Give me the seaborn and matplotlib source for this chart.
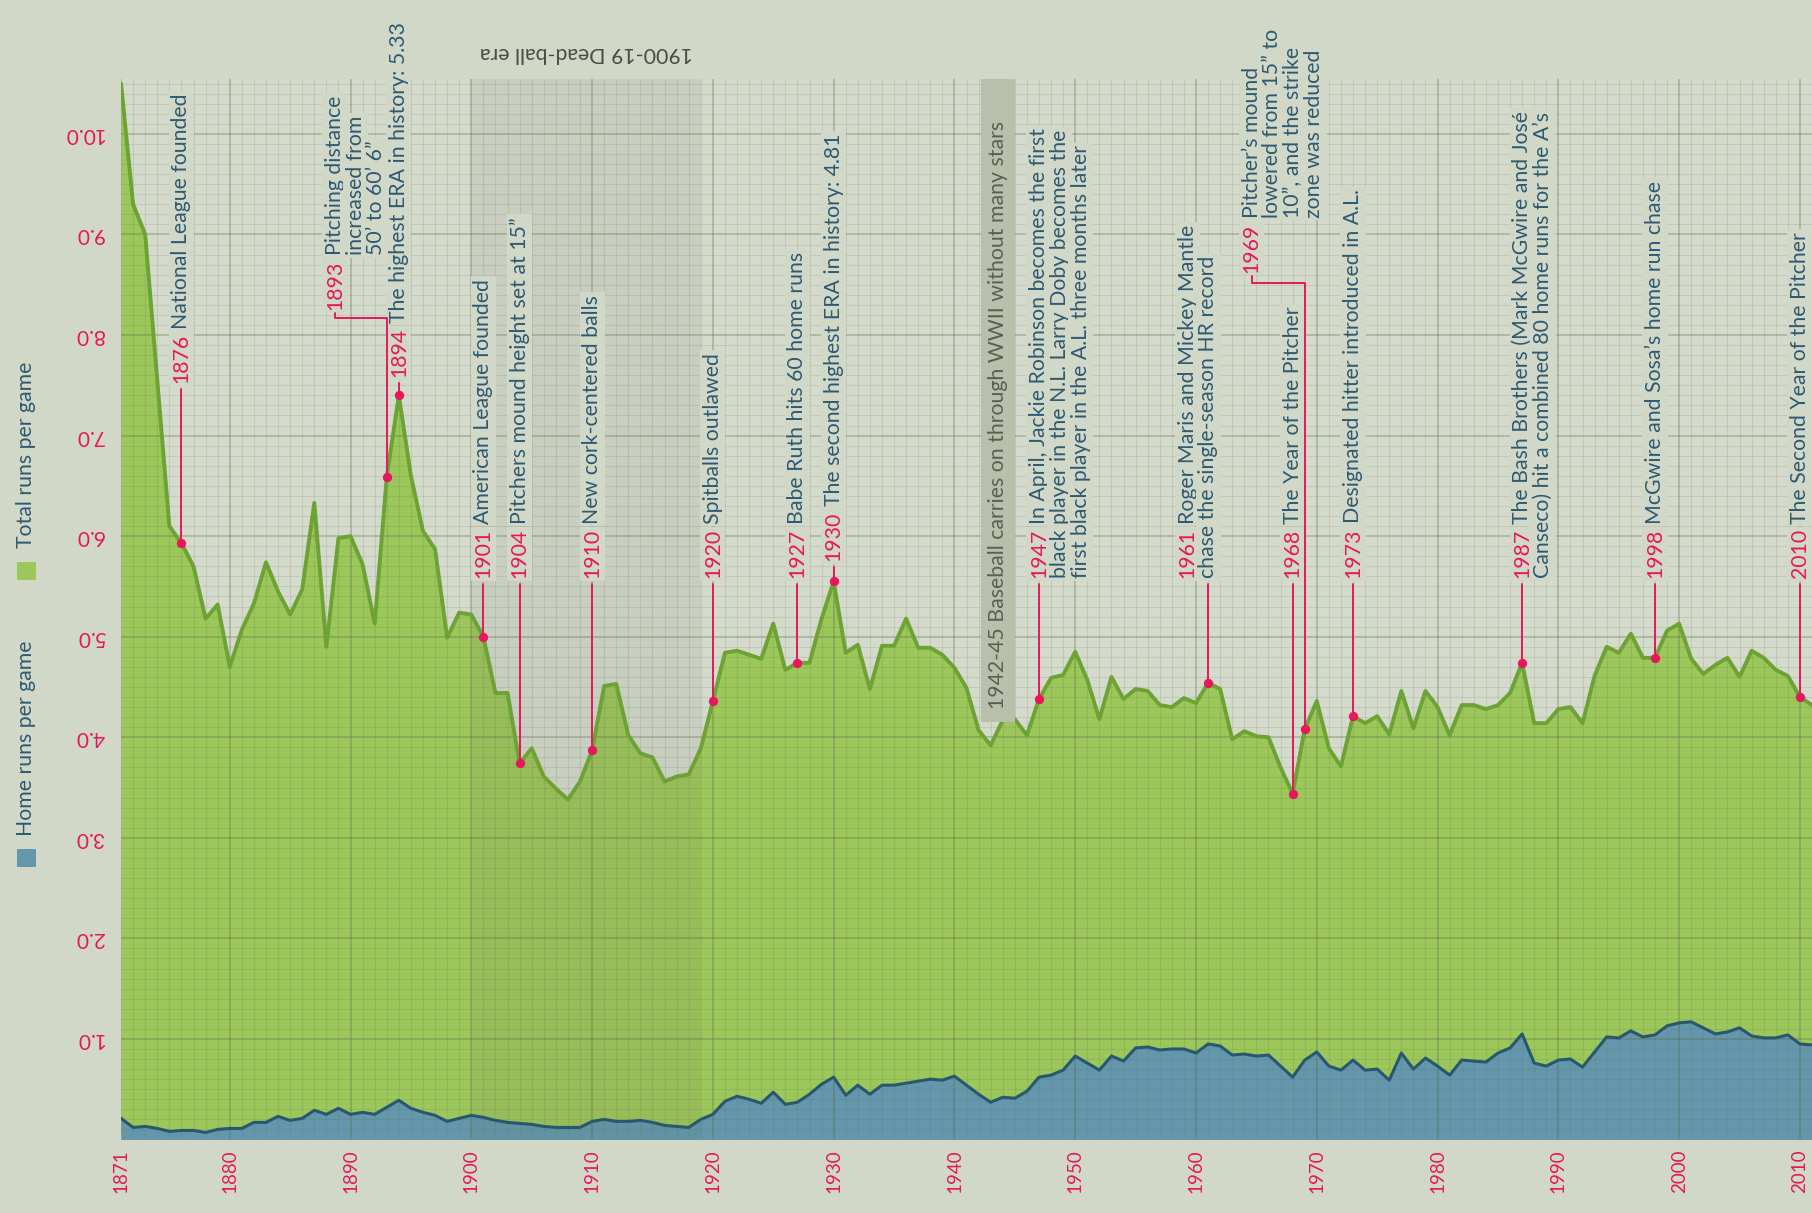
import numpy as np
import pandas as pd
import matplotlib
matplotlib.use("Agg")
import matplotlib.pyplot as plt
import seaborn as sns
from matplotlib.ticker import MultipleLocator
from matplotlib.patches import Rectangle

# 데이터 (경기당 평균 득점 / 홈런, 1871-2011)
years = np.arange(1871, 2012)

runs_per_game = [
    10.50, 9.30, 9.00, 7.55, 6.10, 5.93, 5.70, 5.18, 5.32, 4.70,   # 1871-1880
    5.07, 5.33, 5.74, 5.45, 5.22, 5.47, 6.33, 4.90, 5.98, 6.00,    # 1881-1890
    5.72, 5.13, 6.59, 7.40, 6.60, 6.05, 5.87, 4.99, 5.24, 5.22,    # 1891-1900
    5.00, 4.44, 4.44, 3.74, 3.89, 3.61, 3.49, 3.38, 3.56, 3.87,    # 1901-1910
    4.51, 4.53, 4.02, 3.84, 3.80, 3.56, 3.61, 3.63, 3.89, 4.36,    # 1911-1920
    4.84, 4.86, 4.82, 4.78, 5.13, 4.67, 4.74, 4.74, 5.18, 5.55,    # 1921-1930
    4.84, 4.92, 4.48, 4.91, 4.91, 5.18, 4.89, 4.89, 4.82, 4.69,    # 1931-1940
    4.49, 4.07, 3.92, 4.17, 4.18, 4.02, 4.38, 4.59, 4.62, 4.85,    # 1941-1950
    4.57, 4.18, 4.60, 4.38, 4.48, 4.46, 4.32, 4.30, 4.39, 4.34,    # 1951-1960
    4.54, 4.48, 3.98, 4.06, 4.01, 4.00, 3.70, 3.44, 4.08, 4.36,    # 1961-1970
    3.89, 3.71, 4.21, 4.14, 4.21, 4.03, 4.46, 4.09, 4.46, 4.30,    # 1971-1980
    4.02, 4.32, 4.32, 4.28, 4.32, 4.44, 4.74, 4.14, 4.14, 4.28,    # 1981-1990
    4.30, 4.14, 4.61, 4.90, 4.84, 5.03, 4.79, 4.79, 5.06, 5.13,    # 1991-2000
    4.78, 4.63, 4.72, 4.79, 4.60, 4.86, 4.79, 4.67, 4.61, 4.40,    # 2001-2010
    4.32,                                                          # 2011
]

home_runs_per_game = [
    0.21, 0.12, 0.13, 0.11, 0.08, 0.09, 0.09, 0.07, 0.10, 0.11,
    0.11, 0.17, 0.17, 0.23, 0.19, 0.21, 0.29, 0.25, 0.31, 0.25,
    0.27, 0.25, 0.32, 0.39, 0.31, 0.27, 0.24, 0.18, 0.21, 0.24,
    0.22, 0.19, 0.17, 0.16, 0.15, 0.13, 0.12, 0.12, 0.12, 0.18,
    0.20, 0.18, 0.18, 0.19, 0.17, 0.14, 0.13, 0.12, 0.20, 0.25,
    0.38, 0.43, 0.40, 0.36, 0.47, 0.35, 0.37, 0.45, 0.55, 0.62,
    0.44, 0.54, 0.45, 0.54, 0.54, 0.56, 0.58, 0.60, 0.59, 0.63,
    0.54, 0.45, 0.37, 0.42, 0.41, 0.48, 0.62, 0.64, 0.69, 0.83,
    0.76, 0.69, 0.83, 0.78, 0.91, 0.92, 0.89, 0.90, 0.90, 0.86,
    0.95, 0.93, 0.84, 0.85, 0.83, 0.84, 0.73, 0.62, 0.79, 0.87,
    0.73, 0.69, 0.79, 0.69, 0.70, 0.59, 0.86, 0.70, 0.81, 0.73,
    0.64, 0.79, 0.78, 0.77, 0.86, 0.91, 1.05, 0.76, 0.73, 0.79,
    0.80, 0.72, 0.87, 1.02, 1.01, 1.08, 1.02, 1.04, 1.13, 1.16,
    1.17, 1.11, 1.05, 1.07, 1.11, 1.03, 1.01, 1.01, 1.04, 0.95,
    0.94,
]

tick_years = [1871] + list(range(1880, 2011, 10))
y_ticks = list(range(1, 11))

# 주요 사건 (연도, 설명)
note_years = [1876, 1893, 1894, 1901, 1904, 1910, 1920, 1927, 1930,
              1947, 1961, 1968, 1969, 1973, 1987, 1998, 2010]
note_texts = [
    ["National League founded"],
    ["Pitching distance", "increased from", "50’ to 60’ 6”"],
    ["The highest ERA in history: 5.33"],
    ["American League founded"],
    ["Pitchers mound height set at 15”"],
    ["New cork-centered balls"],
    ["Spitballs outlawed"],
    ["Babe Ruth hits 60 home runs"],
    ["The second highest ERA in history: 4.81"],
    ["In April, Jackie Robinson becomes the first",
     "black player in the N.L. Larry Doby becomes the",
     "first black player in the A.L. three months later"],
    ["Roger Maris and Mickey Mantle", "chase the single-season HR record"],
    ["The Year of the Pitcher"],
    ["Pitcher’s mound", "lowered from 15” to", "10”, and the strike", "zone was reduced"],
    ["Designated hitter introduced in A.L."],
    ["The Bash Brothers (Mark McGwire and José",
     "Canseco) hit a combined 80 home runs for the A’s"],
    ["McGwire and Sosa’s home run chase"],
    ["The Second Year of the Pitcher"],
]

deadball_era = (1900, 1919)
deadball_label = "1900-19 Dead-ball era"
ww2_era = (1942.2, 1945.0)
ww2_label = "1942-45 Baseball carries on through WWII without many stars"
legend_labels = ["Total runs per game", "Home runs per game"]

# 레이아웃 (라벨 위치: x, y 시작, 꺾임 y, 들여쓰기)
note_layout = {
    1876: (1876, 7.52, None, False),
    1893: (1888.7, 8.25, 8.17, True),
    1894: (1894, 7.58, None, False),
    1930: (1930, 5.75, None, False),
    1961: (1959.3, 5.58, None, False),
    1969: (1964.6, 8.62, 8.52, True),
}
DEFAULT_NOTE = 5.58

# 스타일
BG = "#d2d8c8"
PINK = "#e6175c"
TEXT_BLUE = "#2d5a72"
GREY_TEXT = "#596052"
GREEN_FILL = "#9cc75b"
GREEN_LINE = "#6da235"
BLUE_FILL = "#6497ab"
BLUE_LINE = "#28586f"
GRID = "#5d6848"
FS = 15.3
LINE_PT = 15.0

sns.set_style("white", {"axes.facecolor": "#d5dbcc", "figure.facecolor": BG})
plt.rcParams["font.family"] = ["Lato", "DejaVu Sans"]

df = pd.DataFrame({"year": years, "runs": runs_per_game, "hr": home_runs_per_game})

fig = plt.figure(figsize=(18.12, 12.13), dpi=100, facecolor=BG)
ax = fig.add_axes([0.0668, 0.0606, 0.9332, 0.8746])

# 면적
ax.fill_between(df["year"], 0, df["runs"], color=GREEN_FILL, lw=0, zorder=1)
ax.fill_between(df["year"], 0, df["hr"], color=BLUE_FILL, lw=0, zorder=1.5)
sns.lineplot(data=df, x="year", y="runs", ax=ax, color=GREEN_LINE, linewidth=2.8, zorder=3)
sns.lineplot(data=df, x="year", y="hr", ax=ax, color=BLUE_LINE, linewidth=2.2, zorder=3)

ax.set_xlim(1871, 2011)
ax.set_ylim(0, 10.55)

# 데드볼 시대 / 2차대전
ax.axvspan(*deadball_era, color="#5a6048", alpha=0.09, lw=0, zorder=2)
ax.text(sum(deadball_era) / 2, 10.8, deadball_label, rotation=180, ha="center", va="center",
        color="#474d42", fontsize=FS, clip_on=False)
ax.axvspan(*ww2_era, ymin=4.15 / 10.55, ymax=1, color="#b9bfaa", lw=0, zorder=3.5)
ax.text(sum(ww2_era) / 2, 4.28, ww2_label, rotation=90, rotation_mode="anchor",
        ha="left", va="center", color=GREY_TEXT, fontsize=FS, zorder=6)

# 축 / 격자
ax.set_xticks(tick_years)
ax.set_xticklabels([str(y) for y in tick_years], rotation=90, color=PINK, fontsize=13.5)
ax.set_yticks(y_ticks)
ax.set_yticklabels([f"{v:.1f}" for v in y_ticks], color=PINK, fontsize=15)
ax.xaxis.set_minor_locator(MultipleLocator(1))
ax.yaxis.set_minor_locator(MultipleLocator(0.1))
ax.tick_params(which="both", length=0)
ax.tick_params(axis="x", pad=7)
ax.tick_params(axis="y", pad=12, labelrotation=180)
for lab in ax.get_yticklabels():
    lab.set_va("center")
ax.set_axisbelow(False)
ax.grid(which="major", color=GRID, alpha=0.38, lw=1.1)
ax.grid(which="minor", color=GRID, alpha=0.15, lw=0.8)
for s in ax.spines.values():
    s.set_visible(False)
ax.set_xlabel("")
ax.set_ylabel("")

# 주석
box = dict(boxstyle="square,pad=0.12", fc=BG, ec="none")
runs_by_year = dict(zip(years, runs_per_game))
for year, lines in zip(note_years, note_texts):
    lx, ly, elbow, indent = note_layout.get(year, (year, DEFAULT_NOTE, None, False))
    v = runs_by_year[year]
    if elbow is None:
        ax.plot([year, year], [v, ly - 0.06], color=PINK, lw=1.4, zorder=7)
    else:
        ax.plot([year, year, lx, lx], [v, elbow, elbow, ly - 0.03], color=PINK, lw=1.4, zorder=7,
                clip_on=False)
    ax.scatter([year], [v], s=45, color=PINK, zorder=8, lw=0)

    yr = ax.text(lx, ly, str(year), rotation=90, rotation_mode="anchor", ha="left", va="center",
                 color=PINK, fontsize=FS, zorder=6, bbox=box, clip_on=False)
    for i, line in enumerate(lines):
        if i == 0 or indent:
            ax.annotate(line, xy=(0.5, 1.0), xycoords=yr, xytext=(i * LINE_PT, 4),
                        textcoords="offset points", rotation=90, rotation_mode="anchor",
                        ha="left", va="center", color=TEXT_BLUE, fontsize=FS, zorder=6,
                        bbox=box, annotation_clip=False)
        else:
            ax.annotate(line, xy=(lx, ly), xycoords="data", xytext=(i * LINE_PT, 0),
                        textcoords="offset points", rotation=90, rotation_mode="anchor",
                        ha="left", va="center", color=TEXT_BLUE, fontsize=FS, zorder=6,
                        bbox=box, annotation_clip=False)

# 범례
fig.add_artist(Rectangle((0.0094, 0.5218), 0.0105, 0.0148, transform=fig.transFigure,
                         color=GREEN_FILL, lw=0))
fig.text(0.0146, 0.548, legend_labels[0], rotation=90, ha="center", va="bottom",
         color=TEXT_BLUE, fontsize=FS)
fig.add_artist(Rectangle((0.0094, 0.2852), 0.0105, 0.0148, transform=fig.transFigure,
                         color=BLUE_FILL, lw=0))
fig.text(0.0146, 0.311, legend_labels[1], rotation=90, ha="center", va="bottom",
         color=TEXT_BLUE, fontsize=FS)

fig.savefig("out.png", dpi=100, facecolor=BG)
